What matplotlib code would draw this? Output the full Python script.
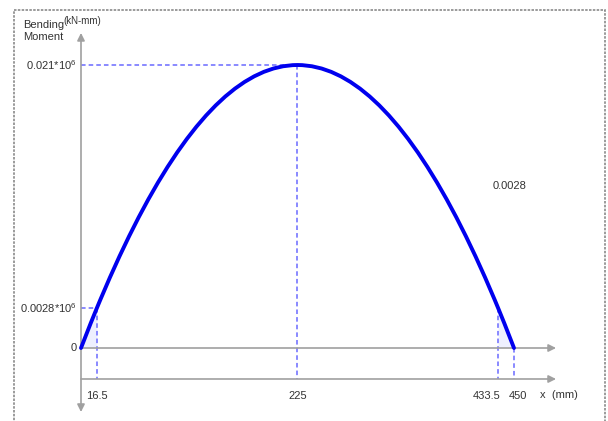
import matplotlib
matplotlib.use("Agg")
import matplotlib.pyplot as plt
from matplotlib.patches import Rectangle

plt.rcParams["font.family"] = ["Liberation Sans", "DejaVu Sans"]
plt.rcParams["mathtext.fontset"] = "custom"
plt.rcParams["mathtext.rm"] = "Liberation Sans"
plt.rcParams["mathtext.default"] = "regular"

# bending moment curve (x in mm, M in 10^6 kN-mm)
x_mm = [0, 10, 16.5, 20, 30, 40, 50, 60, 70, 80, 90, 100, 110, 120, 130, 140, 150,
        160, 170, 180, 190, 200, 210, 220, 225,
        230, 240, 250, 260, 270, 280, 290, 300, 310, 320, 330, 340, 350, 360,
        370, 380, 390, 400, 410, 420, 430, 433.5, 440, 450]
moment = [0, 0.0018252, 0.0029671, 0.0035674, 0.0052267, 0.0068030, 0.0082963,
          0.0097067, 0.011034, 0.012279, 0.013440, 0.014519, 0.015514, 0.016427,
          0.017256, 0.018003, 0.018667, 0.019247, 0.019745, 0.020160, 0.020492,
          0.020741, 0.020907, 0.020990, 0.021,
          0.020990, 0.020907, 0.020741, 0.020492, 0.020160, 0.019745, 0.019247,
          0.018667, 0.018003, 0.017256, 0.016427, 0.015514, 0.014519, 0.013440,
          0.012279, 0.011034, 0.0097067, 0.0082963, 0.0068030, 0.0052267,
          0.0035674, 0.0029671, 0.0018252, 0]

x_ticks = [16.5, 225, 433.5, 450]
x_tick_labels = ["16.5", "225", "433.5", "450"]
peak_x, peak_m = 225, 0.021
low_m = 0.0029671
y_labels = ["0", r"0.0028*10$^6$", r"0.021*10$^6$"]

axis_col = "#a0a0a0"
dash_col = "#6a6aff"
text_col = "#333333"

fig = plt.figure(figsize=(6.08, 4.21), dpi=100)
ax = fig.add_axes([0, 0, 1, 1])
ax.set_xlim(-84.18, 547.7)
ax.set_ylim(-0.005417, 0.025824)
ax.axis("off")

# outer dashed frame
fig.patches.append(Rectangle((14 / 608, -0.05), 591 / 608, 1.05 - 10 / 421,
                             transform=fig.transFigure, fill=False,
                             edgecolor="#8a8a8a", lw=1.2, linestyle=(0, (1.5, 0.8))))

low_axis = -0.0023
x_end = 493.7

# axes with arrows
arrow = dict(color=axis_col, lw=1.2, mutation_scale=11, shrinkA=0, shrinkB=0)
ax.annotate("", xy=(0, 0.02338), xytext=(0, -0.00475),
            arrowprops=dict(arrowstyle="<|-|>", **arrow))
ax.annotate("", xy=(x_end, 0), xytext=(0, 0),
            arrowprops=dict(arrowstyle="-|>", **arrow))
ax.annotate("", xy=(x_end, low_axis), xytext=(0, low_axis),
            arrowprops=dict(arrowstyle="-|>", **arrow))

# light fill near the supports
ax.fill_between(x_mm[:3], moment[:3], 0, color="#eef0ff", lw=0)
ax.fill_between(x_mm[-3:], moment[-3:], 0, color="#eef0ff", lw=0)

# dashed guide lines
dash = dict(color=dash_col, lw=1.1, linestyle=(0, (3, 2)))
ax.plot([0, peak_x], [peak_m, peak_m], **dash)
ax.plot([peak_x, peak_x], [peak_m, low_axis], **dash)
ax.plot([0, 16.5], [low_m, low_m], **dash)
ax.plot([16.5, 16.5], [low_m, low_axis], **dash)
ax.plot([433.5, 433.5], [low_m, low_axis], **dash)
ax.plot([450, 450], [0, low_axis], **dash)

# curve
ax.plot(x_mm, moment, color="#0000ee", lw=2.8, solid_capstyle="round",
        solid_joinstyle="round", zorder=5)

# y labels
for yv, lab in zip([0, low_m, peak_m], y_labels):
    ax.annotate(lab, xy=(0, yv), xytext=(-3, 0), textcoords="offset points",
                ha="right", va="center", fontsize=8, color=text_col)

# x labels
offsets = [0, 0, -8, 3]
for xv, lab, off in zip(x_ticks, x_tick_labels, offsets):
    ax.annotate(lab, xy=(xv, low_axis), xytext=(off, -12), textcoords="offset points",
                ha="center", va="center", fontsize=8, color=text_col)

ax.text(540 / 608, 1 - 395 / 421, "x  (mm)", transform=ax.transAxes,
        ha="left", va="center", fontsize=8, color=text_col)
ax.text(23 / 608, 1 - 25 / 421, "Bending", transform=ax.transAxes,
        ha="left", va="center", fontsize=8, color=text_col)
ax.text(23 / 608, 1 - 37 / 421, "Moment", transform=ax.transAxes,
        ha="left", va="center", fontsize=8, color=text_col)
ax.text(63 / 608, 1 - 21 / 421, "(kN-mm)", transform=ax.transAxes,
        ha="left", va="center", fontsize=7, color=text_col)
ax.text(510 / 608, 1 - 186 / 421, "0.0028", transform=ax.transAxes,
        ha="center", va="center", fontsize=8, color=text_col)

fig.savefig("out.png", dpi=100)
